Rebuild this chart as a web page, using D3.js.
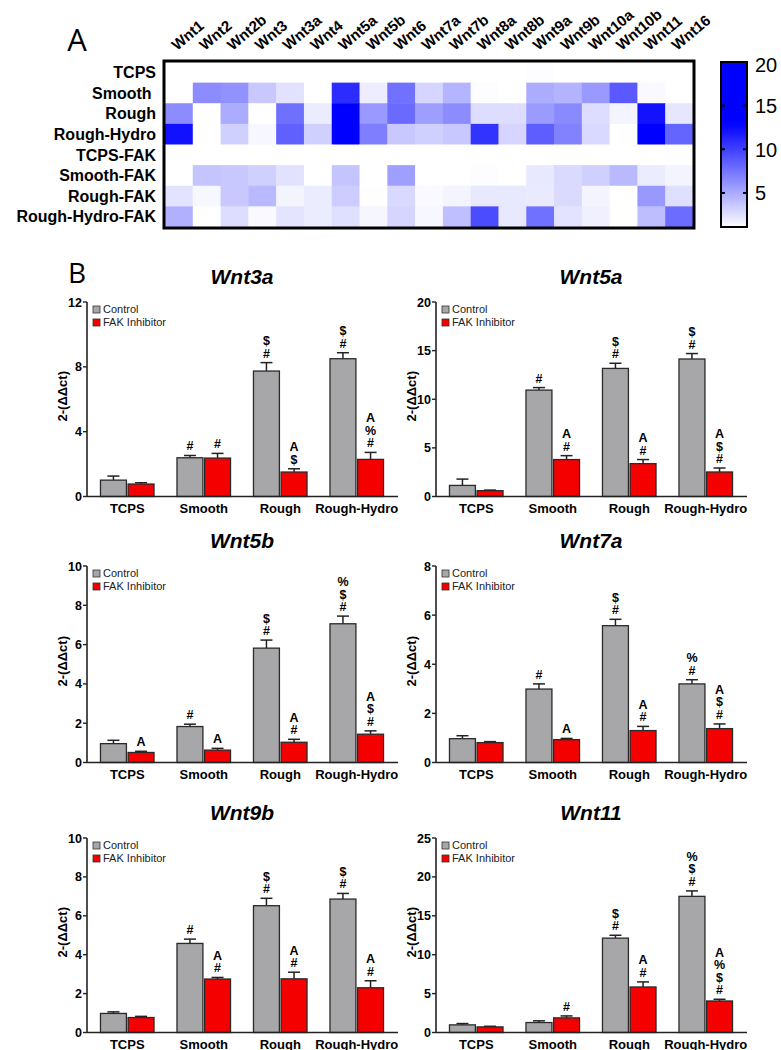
<!DOCTYPE html>
<html><head><meta charset="utf-8">
<script src="https://cdn.jsdelivr.net/npm/d3@7"></script>
<style>
body{margin:0;background:#fff;}
svg{display:block;font-family:"Liberation Sans",Arial,sans-serif;}
</style></head>
<body>
<svg id="chart" width="781" height="1050"></svg>
<script>
// ---------- Heatmap data ----------
const hmGenes = ["Wnt1","Wnt2","Wnt2b","Wnt3","Wnt3a","Wnt4","Wnt5a","Wnt5b","Wnt6","Wnt7a","Wnt7b","Wnt8a","Wnt8b","Wnt9a","Wnt9b","Wnt10a","Wnt10b","Wnt11","Wnt16"];
const hmConditions = ["TCPS","Smooth ","Rough","Rough-Hydro","TCPS-FAK","Smooth-FAK","Rough-FAK","Rough-Hydro-FAK"];
const hmTCPS      = [1,1,1,1,1,1,1,1,1,1,1,1,1,1.1,1,1,1,1,1];
const hmSmooth    = [1.0,6.4,6.2,3.6,2.35,1.0,10.94,1.83,7.7,2.99,4.5,1.1,1.0,4.9,4.58,5.8,8.8,1.28,1.0];
const hmRough     = [6.4,1.0,4.9,1.0,7.75,1.9,13.17,5.82,8.0,5.57,6.4,2.6,2.6,5.7,6.52,2.6,1.5,12.13,2.2];
const hmRoughHydro= [12.2,1.0,3.2,1.4,8.5,3.2,14.14,7.06,3.6,3.2,3.6,10.6,3.0,8.6,6.86,2.8,1.0,17.5,8.3];
const hmTCPSFAK   = [1,1,1,1,1,1,1,1,1,1,1,1,1,1,1,1,1,1,1];
const hmSmoothFAK = [1.0,3.8,3.6,3.2,2.35,1.0,3.8,0.63,5.5,0.93,1.0,1.1,1.0,2.1,2.75,3.2,4.3,1.88,1.5];
const hmRoughFAK  = [2.3,1.4,3.6,4.3,1.51,1.9,3.38,1.03,2.8,1.3,1.5,2.1,2.1,2.0,2.76,1.5,1.0,5.85,2.5];
const hmRoughHydroFAK = [4.7,1.0,2.6,1.3,2.29,1.9,2.52,1.44,3.0,1.38,4.0,9.4,2.1,7.7,2.3,1.7,1.0,4.05,7.9];
const colorbarTicks = [5,10,15,20];

// ---------- Bar chart data ----------
const groups = ["TCPS","Smooth","Rough","Rough-Hydro"];
const seriesNames = ["Control","FAK Inhibitor"];

const wnt3aCtrl = [1.01,2.39,7.74,8.5],   wnt3aCtrlSem = [0.25,0.14,0.52,0.37];
const wnt3aFak  = [0.77,2.37,1.51,2.29],  wnt3aFakSem  = [0.08,0.29,0.2,0.43];
const wnt3aCtrlSig = [[],["#"],["$","#"],["$","#"]];
const wnt3aFakSig  = [[],["#"],["A","$"],["A","%","#"]];
const wnt3aTicks = [0,4,8,12];

const wnt5aCtrl = [1.14,10.94,13.17,14.14], wnt5aCtrlSem = [0.65,0.26,0.53,0.56];
const wnt5aFak  = [0.6,3.8,3.38,2.52],      wnt5aFakSem  = [0.06,0.4,0.42,0.41];
const wnt5aCtrlSig = [[],["#"],["$","#"],["$","#"]];
const wnt5aFakSig  = [[],["A","#"],["A","#"],["A","$","#"]];
const wnt5aTicks = [0,5,10,15,20];

const wnt5bCtrl = [0.96,1.83,5.82,7.06], wnt5bCtrlSem = [0.17,0.12,0.41,0.39];
const wnt5bFak  = [0.51,0.63,1.03,1.44], wnt5bFakSem  = [0.06,0.09,0.15,0.17];
const wnt5bCtrlSig = [[],["#"],["$","#"],["%","$","#"]];
const wnt5bFakSig  = [["A"],["A"],["A","#"],["A","$","#"]];
const wnt5bTicks = [0,2,4,6,8,10];

const wnt7aCtrl = [0.97,2.99,5.57,3.2],  wnt7aCtrlSem = [0.12,0.21,0.26,0.17];
const wnt7aFak  = [0.81,0.93,1.3,1.38],  wnt7aFakSem  = [0.04,0.05,0.17,0.19];
const wnt7aCtrlSig = [[],["#"],["$","#"],["%","#"]];
const wnt7aFakSig  = [[],["A"],["A","#"],["A","$","#"]];
const wnt7aTicks = [0,2,4,6,8];

const wnt9bCtrl = [0.98,4.58,6.52,6.86], wnt9bCtrlSem = [0.08,0.22,0.38,0.29];
const wnt9bFak  = [0.77,2.75,2.76,2.3],  wnt9bFakSem  = [0.06,0.08,0.34,0.36];
const wnt9bCtrlSig = [[],["#"],["$","#"],["$","#"]];
const wnt9bFakSig  = [[],["A","#"],["A","#"],["A","#"]];
const wnt9bTicks = [0,2,4,6,8,10];

const wnt11Ctrl = [0.98,1.28,12.13,17.5], wnt11CtrlSem = [0.17,0.22,0.37,0.7];
const wnt11Fak  = [0.72,1.88,5.85,4.05],  wnt11FakSem  = [0.08,0.25,0.65,0.22];
const wnt11CtrlSig = [[],[],["$","#"],["%","$","#"]];
const wnt11FakSig  = [[],["#"],["A","#"],["A","%","$","#"]];
const wnt11Ticks = [0,5,10,15,20,25];

// ---------- Drawing ----------
const svg = d3.select("#chart");

svg.append("text").attr("x",77).attr("y",51).attr("text-anchor","middle")
  .attr("font-size",31).attr("font-family",'"Open Sans","Liberation Sans",sans-serif').text("A");
svg.append("text").attr("x",77).attr("y",283).attr("text-anchor","middle")
  .attr("font-size",28).attr("font-family",'"Open Sans","Liberation Sans",sans-serif').text("B");

// Heatmap
const hmRows = [hmTCPS,hmSmooth,hmRough,hmRoughHydro,hmTCPSFAK,hmSmoothFAK,hmRoughFAK,hmRoughHydroFAK];
const hx = d3.scaleBand().domain(hmGenes).range([165,693]);
const hy = d3.scaleBand().domain(hmConditions).range([62,227]);
const heat = d3.scaleLinear().domain([1,13]).range(["#ffffff","#0000ff"]).clamp(true);

const cells = [];
hmRows.forEach((row,i)=>row.forEach((v,j)=>cells.push({c:hmConditions[i],g:hmGenes[j],v})));
svg.append("g").selectAll("rect").data(cells).join("rect")
  .attr("x",d=>hx(d.g)).attr("y",d=>hy(d.c))
  .attr("width",hx.bandwidth()+0.5).attr("height",hy.bandwidth()+0.5)
  .attr("fill",d=>heat(d.v));
svg.append("rect").attr("x",164).attr("y",61).attr("width",530).attr("height",167)
  .attr("fill","none").attr("stroke","#000").attr("stroke-width",3);

svg.append("g").selectAll("text").data(hmConditions).join("text")
  .attr("x",156).attr("y",d=>hy(d)+hy.bandwidth()/2).attr("dy","0.36em")
  .attr("text-anchor","end").attr("font-weight","bold").attr("font-size",16)
  .style("white-space","pre").text(d=>d);

svg.append("g").selectAll("text").data(hmGenes).join("text")
  .attr("x",0).attr("y",0)
  .attr("transform",d=>"translate(" + (hx(d)+hx.bandwidth()/2-2) + ",51) rotate(-40)")
  .attr("font-weight","bold").attr("font-size",15).text(d=>d);

// Colorbar
const cbY = d3.scaleLinear().domain([1.1,20]).range([227,62]);
const defs = svg.append("defs");
const grad = defs.append("linearGradient").attr("id","cbgrad").attr("x1",0).attr("y1",1).attr("x2",0).attr("y2",0);
d3.range(0,1.0001,0.05).forEach(t=>{
  const v = 1.1 + t*(20-1.1);
  grad.append("stop").attr("offset",t).attr("stop-color",heat(v));
});
svg.append("rect").attr("x",721).attr("y",62).attr("width",26).attr("height",165)
  .attr("fill","url(#cbgrad)").attr("stroke","#000").attr("stroke-width",2);
const cbt = svg.append("g").selectAll("g").data(colorbarTicks).join("g");
cbt.filter(d=>d<20).append("line").attr("x1",721).attr("x2",725).attr("y1",d=>cbY(d)).attr("y2",d=>cbY(d)).attr("stroke","#000").attr("stroke-width",2);
cbt.filter(d=>d<20).append("line").attr("x1",743).attr("x2",747).attr("y1",d=>cbY(d)).attr("y2",d=>cbY(d)).attr("stroke","#000").attr("stroke-width",2);
cbt.append("text").attr("x",755).attr("y",d=>cbY(d)+(d===20?3:0)).attr("dy","0.36em")
  .attr("font-size",20).text(d=>d);

// Bar panels
const panels = [
  {name:"Wnt3a", col:0, row:0, ctrl:wnt3aCtrl, ctrlSem:wnt3aCtrlSem, fak:wnt3aFak, fakSem:wnt3aFakSem, cs:wnt3aCtrlSig, fs:wnt3aFakSig, ticks:wnt3aTicks},
  {name:"Wnt5a", col:1, row:0, ctrl:wnt5aCtrl, ctrlSem:wnt5aCtrlSem, fak:wnt5aFak, fakSem:wnt5aFakSem, cs:wnt5aCtrlSig, fs:wnt5aFakSig, ticks:wnt5aTicks},
  {name:"Wnt5b", col:0, row:1, ctrl:wnt5bCtrl, ctrlSem:wnt5bCtrlSem, fak:wnt5bFak, fakSem:wnt5bFakSem, cs:wnt5bCtrlSig, fs:wnt5bFakSig, ticks:wnt5bTicks},
  {name:"Wnt7a", col:1, row:1, ctrl:wnt7aCtrl, ctrlSem:wnt7aCtrlSem, fak:wnt7aFak, fakSem:wnt7aFakSem, cs:wnt7aCtrlSig, fs:wnt7aFakSig, ticks:wnt7aTicks},
  {name:"Wnt9b", col:0, row:2, ctrl:wnt9bCtrl, ctrlSem:wnt9bCtrlSem, fak:wnt9bFak, fakSem:wnt9bFakSem, cs:wnt9bCtrlSig, fs:wnt9bFakSig, ticks:wnt9bTicks},
  {name:"Wnt11", col:1, row:2, ctrl:wnt11Ctrl, ctrlSem:wnt11CtrlSem, fak:wnt11Fak, fakSem:wnt11FakSem, cs:wnt11CtrlSig, fs:wnt11FakSig, ticks:wnt11Ticks}
];
const colX = [87, 436];
const rowTop = [302, 566, 838];
const rowBot = [496.5, 762.5, 1032.5];
const fills = ["#a7a7aa","#f50000"];

panels.forEach(p=>{
  const ax = colX[p.col], top = rowTop[p.row], bot = rowBot[p.row];
  const g = svg.append("g");
  const x0 = d3.scaleBand().domain(groups).range([ax+2, ax+308]).paddingInner(0.3).paddingOuter(0.15);
  const x1 = d3.scaleBand().domain(seriesNames).range([0, x0.bandwidth()]).paddingInner(0.06);
  const y = d3.scaleLinear().domain([0, d3.max(p.ticks)]).range([bot, top]);

  g.append("text").attr("x",ax+155).attr("y",top-18).attr("text-anchor","middle")
    .attr("font-weight","bold").attr("font-style","italic").attr("font-size",21).text(p.name);

  const data = [];
  groups.forEach((gr,i)=>{
    data.push({g:gr, s:seriesNames[0], v:p.ctrl[i], e:p.ctrlSem[i], sig:p.cs[i], k:0});
    data.push({g:gr, s:seriesNames[1], v:p.fak[i], e:p.fakSem[i], sig:p.fs[i], k:1});
  });
  const cxf = d=>x0(d.g)+x1(d.s)+x1.bandwidth()/2;
  const eb = g.append("g").selectAll("g").data(data).join("g");
  eb.append("line").attr("x1",cxf).attr("x2",cxf)
    .attr("y1",d=>y(d.v)).attr("y2",d=>y(d.v+d.e)).attr("stroke","#222").attr("stroke-width",1.5);
  eb.append("line").attr("x1",d=>cxf(d)-6).attr("x2",d=>cxf(d)+6)
    .attr("y1",d=>y(d.v+d.e)).attr("y2",d=>y(d.v+d.e)).attr("stroke","#222").attr("stroke-width",1.5);
  g.append("g").selectAll("rect").data(data).join("rect")
    .attr("x",d=>x0(d.g)+x1(d.s)).attr("y",d=>y(d.v))
    .attr("width",x1.bandwidth()).attr("height",d=>bot-y(d.v))
    .attr("fill",d=>fills[d.k]).attr("stroke","#2a2a2a").attr("stroke-width",1.3);
  data.forEach(d=>{
    const n = d.sig.length;
    d.sig.forEach((s,i)=>{
      g.append("text").attr("x",cxf(d)).attr("y",y(d.v+d.e)-5-(n-1-i)*12.5)
        .attr("text-anchor","middle").attr("font-weight","bold").attr("font-size",12.5).text(s);
    });
  });
  g.append("line").attr("x1",ax).attr("x2",ax).attr("y1",top).attr("y2",bot).attr("stroke","#222").attr("stroke-width",1.6);
  g.append("line").attr("x1",ax).attr("x2",ax+311).attr("y1",bot).attr("y2",bot).attr("stroke","#222").attr("stroke-width",1.6);
  const yt = g.append("g").selectAll("g").data(p.ticks).join("g");
  yt.append("line").attr("x1",ax-4).attr("x2",ax).attr("y1",d=>y(d)).attr("y2",d=>y(d)).attr("stroke","#222").attr("stroke-width",1.4);
  yt.append("text").attr("x",ax-5).attr("y",d=>y(d)).attr("dy","0.36em").attr("text-anchor","end")
    .attr("font-weight","bold").attr("font-size",12.5).text(d=>d);
  g.append("g").selectAll("text").data(groups).join("text")
    .attr("x",d=>x0(d)+x0.bandwidth()/2).attr("y",bot+16).attr("text-anchor","middle")
    .attr("font-weight","bold").attr("font-size",13).text(d=>d);
  g.append("text").attr("transform",`translate(${ax-20},${(top+bot)/2-3}) rotate(-90)`)
    .attr("text-anchor","middle").attr("font-weight","bold").attr("font-size",13).text("2-(\u0394\u0394ct)");
  seriesNames.forEach((s,i)=>{
    g.append("rect").attr("x",ax+6).attr("y",top+4+i*13).attr("width",7).attr("height",7)
      .attr("fill",fills[i]).attr("stroke","#333").attr("stroke-width",0.8);
    g.append("text").attr("x",ax+16).attr("y",top+11+i*13).attr("font-size",11).attr("fill","#222").text(s);
  });
});
</script>
</body></html>
